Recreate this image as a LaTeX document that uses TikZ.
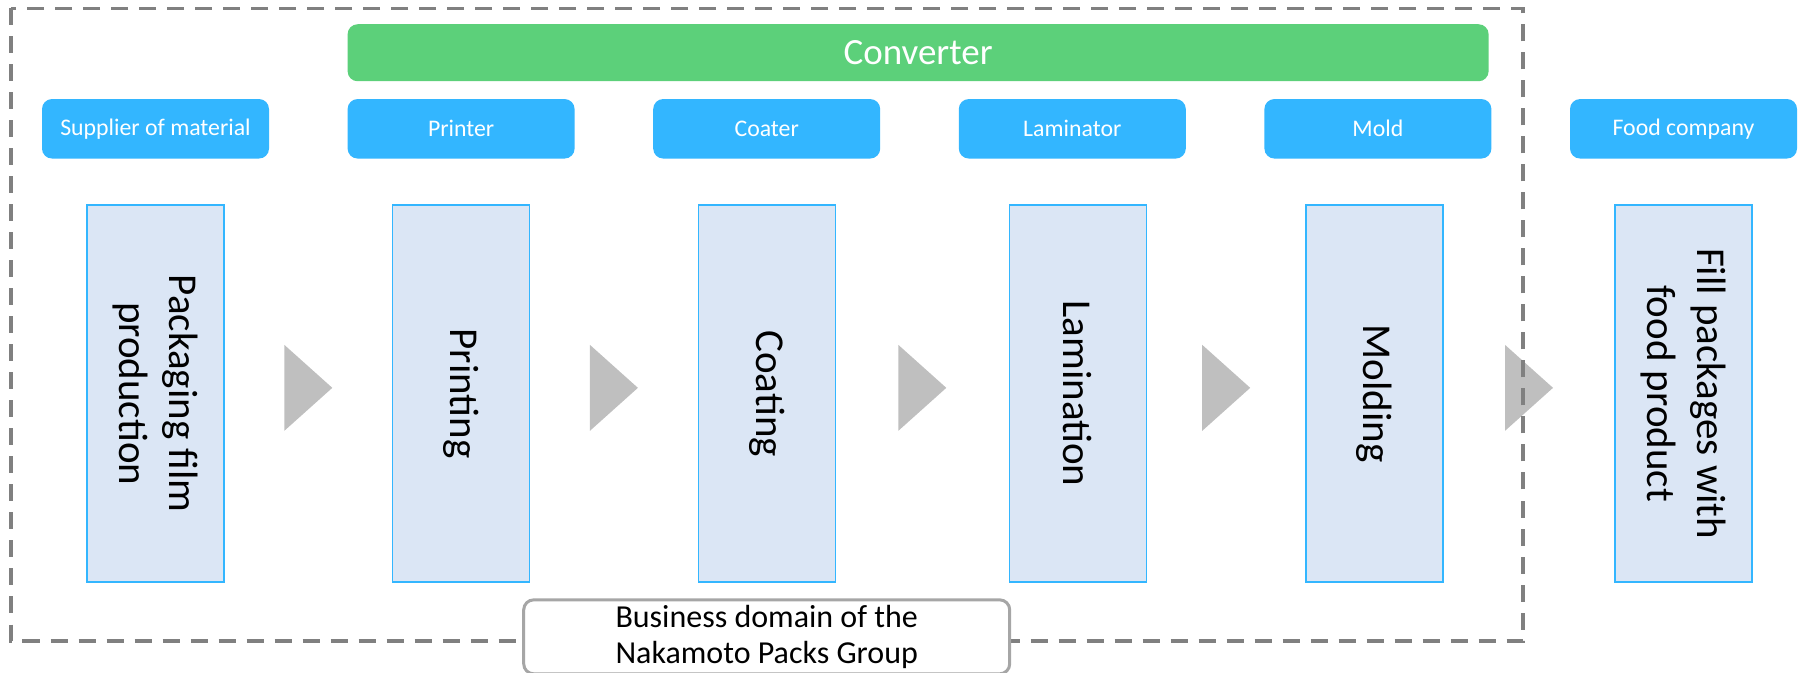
\documentclass[tikz,border=0pt]{standalone}
\usepackage{fontspec}
\setmainfont{Carlito}
\usetikzlibrary{positioning,calc}

\definecolor{convgreen}{RGB}{92,208,122}
\definecolor{rolecyan}{RGB}{51,182,255}
\definecolor{procfill}{RGB}{219,230,245}
\definecolor{flowgray}{RGB}{191,191,191}
\definecolor{framegray}{RGB}{128,128,128}
\definecolor{domaingray}{RGB}{166,166,166}

\begin{document}
\begin{tikzpicture}[
  node distance=22.75pt and 38.9pt,
  role/.style={fill=rolecyan, rounded corners=5pt, text=white, font=\fontsize{11.9}{14}\selectfont, minimum width=113.5pt, minimum height=29.75pt, inner sep=0pt},
  conv/.style={fill=convgreen, rounded corners=5pt, text=white, font=\fontsize{18.5}{22}\selectfont, minimum width=570.5pt, minimum height=28.5pt, inner sep=0pt},
  proc/.style={draw=rolecyan, line width=0.7pt, fill=procfill, minimum width=68.5pt, minimum height=188.5pt, inner sep=0pt},
  proctext/.style={rotate=-90, align=center, font=\fontsize{20.5}{25}\selectfont},
  flow/.style={fill=flowgray},
  groupframe/.style={draw=framegray, line width=1.75pt, dash pattern=on 8.5pt off 5.5pt},
  domainbox/.style={draw=domaingray, line width=1.5pt, fill=white, rounded corners=5pt, align=center, font=\fontsize{16}{18}\selectfont, minimum width=243pt, minimum height=37pt, inner sep=0pt}
]
\useasboundingbox (0,0) rectangle (900pt,-336.5pt);

% roles along the chain
\node[role] (hSup) at (77.75pt,-64.4pt) {Supplier of material};
\node[role, right=of hSup] (hPrint) {Printer};
\node[role, right=of hPrint] (hCoat) {Coater};
\node[role, right=of hCoat] (hLam) {Laminator};
\node[role, right=of hLam] (hMold) {Mold};
\node[role, right=of hMold] (hFood) {Food company};
\node[conv, anchor=south west] (conv) at ([yshift=8.5pt]hPrint.north west) {Converter};

% process steps
\node[proc, below=of hSup] (pPack) {};
\node[proc, below=of hPrint] (pPrint) {};
\node[proc, below=of hCoat] (pCoat) {};
\node[proc, below=of hLam, xshift=2.8pt] (pLam) {};
\node[proc, below=of hMold, xshift=-1.7pt] (pMold) {};
\node[proc, below=of hFood] (pFill) {};
\node[proctext] at (pPack) {Packaging film\\production};
\node[proctext] at (pPrint) {Printing};
\node[proctext] at (pCoat) {Coating};
\node[proctext] at (pLam) {Lamination};
\node[proctext] at (pMold) {Molding};
\node[proctext] at (pFill) {Fill packages with\\food product};

% flow marks
\foreach \a/\b in {pPack/pPrint, pPrint/pCoat, pCoat/pLam, pLam/pMold, pMold/pFill}
  \fill[flow] ($(\a.east)!0.5!(\b.west)+(-12pt,24.4pt)$) -- ++(24pt,-21.5pt) -- ++(-24pt,-21.5pt) -- cycle;

% group boundary
\draw[groupframe] (5.5pt,-4.25pt) rectangle (761.5pt,-320.5pt);
\node[domainbox, below=7.75pt of pCoat] (bizdom) {Business domain of the\\Nakamoto Packs Group};
\end{tikzpicture}
\end{document}
